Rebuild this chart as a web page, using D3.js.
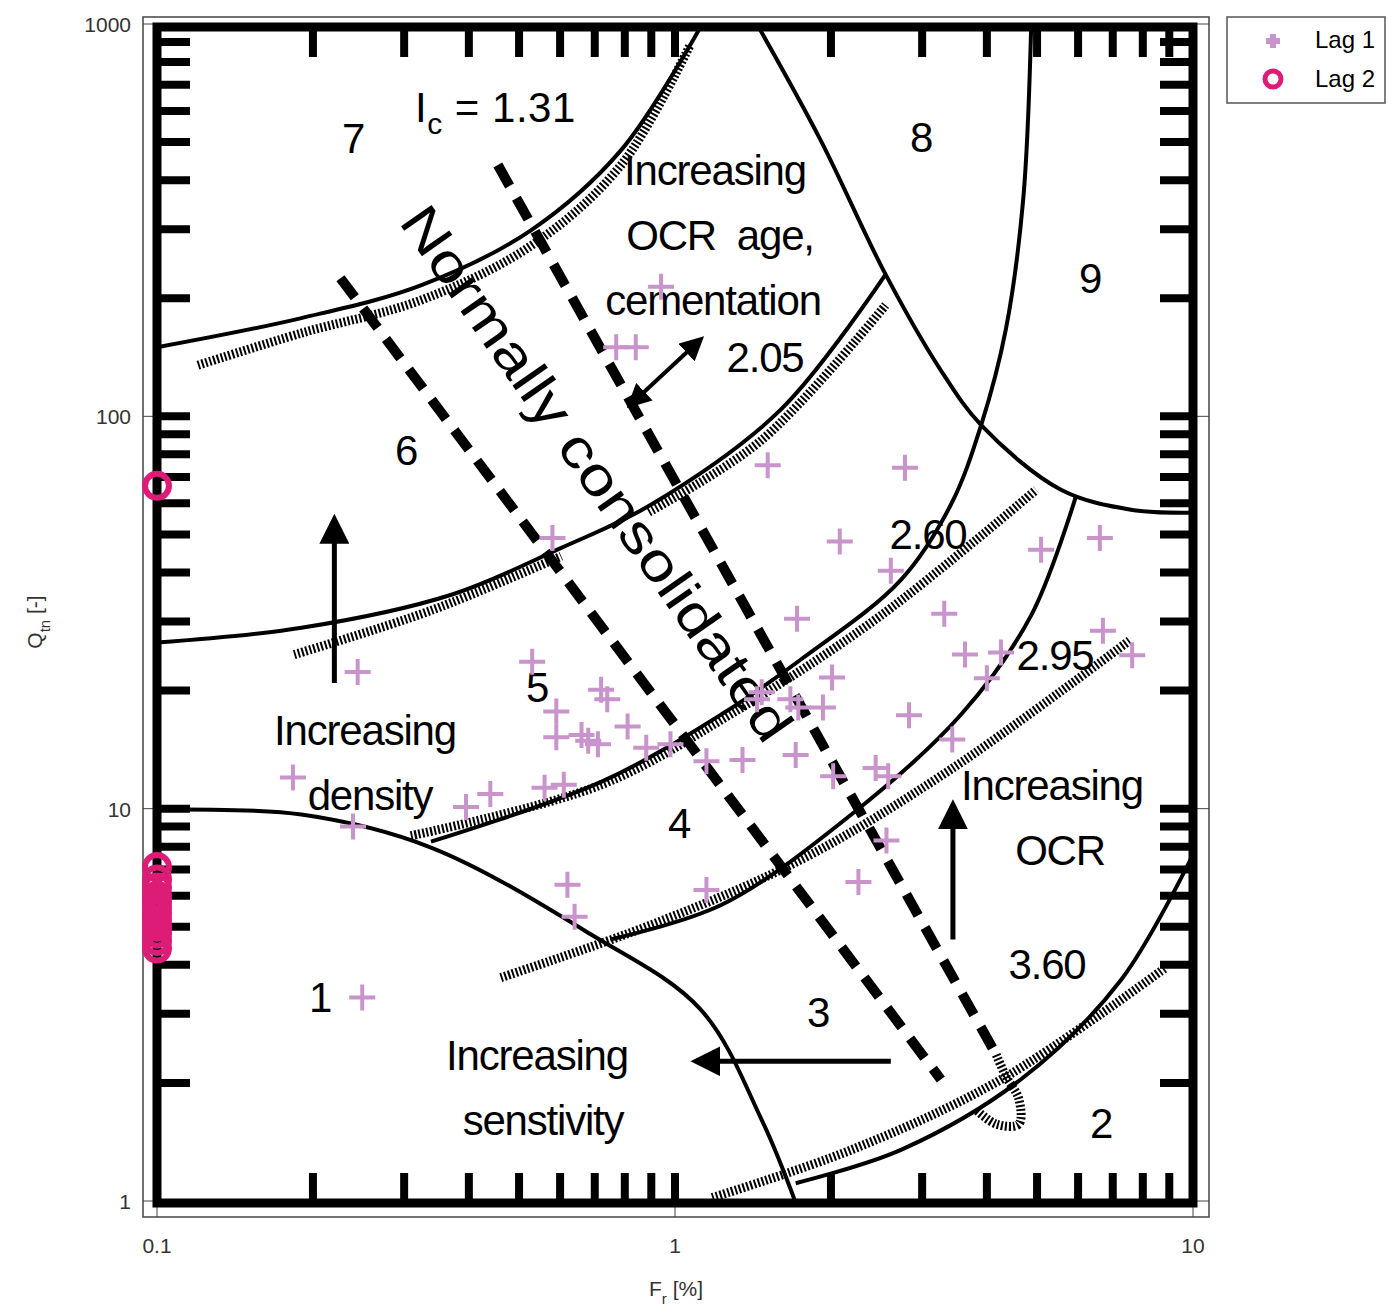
<!DOCTYPE html>
<html><head><meta charset="utf-8">
<script src="https://cdn.jsdelivr.net/npm/d3@7"></script>
<style>
body{margin:0;background:#fff;}
text{font-family:"Liberation Sans",Arial,sans-serif;}
</style></head>
<body><svg id="chart" width="1394" height="1308"></svg>
<script>
// scatter data [Fr %, Qtn]
var lag1 = [[0.94,214],[0.77,150],[0.84,150],[1.51,75],[2.78,74],[0.58,49],[2.08,48],[5.09,45.7],[6.61,49],
  [2.61,40.4],[1.72,30.5],[3.31,31.4],[6.70,28.4],[3.63,24.7],[4.26,25],[7.63,24.6],[0.244,22.3],[0.53,23.7],
  [0.72,20.1],[0.74,19],[1.47,19.8],[1.44,19],[1.67,19],[2.01,21.6],[4.0,21.5],[0.59,17.7],[0.59,15.2],
  [0.66,15.4],[0.68,14.9],[0.71,14.6],[0.81,16.2],[0.88,14.3],[0.98,14.6],[1.15,13.2],[1.35,13.3],[1.71,13.7],
  [1.93,18.1],[1.73,18.1],[2.83,17.3],[3.43,15],[2.44,12.7],[2.58,12.1],[2.02,12.1],[0.183,12],[0.395,10.1],
  [0.44,10.9],[0.56,11.3],[0.61,11.5],[0.239,9.0],[2.56,8.3],[2.26,6.5],[0.62,6.4],[0.64,5.3],[1.15,6.2],[0.249,3.3]];
var lag2 = [[0.1,66.5],[0.1,7.1],[0.1,6.6],[0.1,6.3],[0.1,6.0],[0.1,5.8],[0.1,5.6],[0.1,5.4],[0.1,5.2],
  [0.1,5.0],[0.1,4.8],[0.1,4.6],[0.1,4.4]];

// background chart boundaries [Fr, Q]
var zone1 = [[0.1,9.94],[0.19,9.66],[0.338,7.96],[0.69,4.77],[1.12,3.08],[1.47,1.61],[1.71,0.99]];
var line76 = [[0.1,150],[0.19,178],[0.324,216],[0.527,298],[0.787,477],[1.12,982]];
var line65 = [[0.1,26.5],[0.19,28.9],[0.37,35.1],[0.603,46.2],[0.9,59.6],[1.6,104],[2.55,230]];
var lineB = [[0.338,8.24],[0.72,11.7],[1.23,17.4],[1.75,24],[2.73,38.3],[3.41,59.6],[3.9,95],[4.35,166],[4.7,356],[4.87,982]];
var lineA = [[1.45,982],[1.91,506],[2.55,230],[3.26,131],[3.9,95],[5.56,65],[7.59,57.8],[10,56.8]];
var lineC = [[0.75,4.64],[1.23,5.69],[2.19,9.66],[3.57,17.4],[4.87,31.1],[5.94,62.4]];
var lineD = [[1.71,1.11],[2.73,1.35],[4.65,2.04],[7.26,3.66],[10,7.64]];
var hatch131 = [[0.12,135],[0.19,163],[0.324,198],[0.527,272],[0.787,437],[1.07,885]];
var hatch205 = [[0.89,57],[1.47,87],[2.55,192]];
var hatch205b = [[0.184,24.7],[0.338,32],[0.603,44]];
var hatch260 = [[0.309,8.53],[0.72,11.5],[1.28,17.4],[2.5,31.1],[4.98,65]];
var hatch295 = [[0.461,3.71],[0.9,5.06],[1.75,7.41],[3.41,12.6],[7.59,27]];
var hatch360 = [[1.18,1.02],[2.19,1.35],[4.26,2.04],[8.87,3.94]];
var curl = [[4.17,2.36],[4.36,2.07],[4.61,1.82],[4.61,1.57],[4.17,1.57],[3.81,1.71]];
var nc1 = [[0.226,225],[3.26,2.04]];
var nc2 = [[0.455,437],[4.17,2.36]];
var arrowsOne = [[[0.22,20.9],[0.22,54.5]],[[2.61,2.27],[1.10,2.27]],[[3.44,4.64],[3.44,10.2]]];
var arrowTwo = [[0.82,107],[1.12,157]];

var xTicks = [0.1,1,10], yTicks = [1,10,100,1000];

var svg = d3.select("#chart");
var x = d3.scaleLog().domain([0.1,10]).range([157,1193]);
var y = d3.scaleLog().domain([1,1000]).range([1201,24]);
var line = d3.line().x(function(d){return x(d[0]);}).y(function(d){return y(d[1]);}).curve(d3.curveCatmullRom);

var defs = svg.append("defs");
defs.append("marker").attr("id","ah").attr("viewBox","0 0 10 10").attr("refX",8).attr("refY",5)
  .attr("markerWidth",6).attr("markerHeight",6).attr("orient","auto-start-reverse").attr("markerUnits","strokeWidth")
  .append("path").attr("d","M0,0L10,5L0,10z").attr("fill","#000");
defs.append("clipPath").attr("id","clip").append("rect").attr("x",157).attr("y",27).attr("width",1036).attr("height",1176);

// thin outer frame
svg.append("rect").attr("x",143).attr("y",17).attr("width",1066).attr("height",1200)
  .attr("fill","none").attr("stroke","#444").attr("stroke-width",1.5);
svg.selectAll(".yt").data(yTicks).enter().append("line")
  .attr("x1",143).attr("x2",157).attr("y1",function(d){return y(d);}).attr("y2",function(d){return y(d);}).attr("stroke","#444");
svg.selectAll(".yt2").data(yTicks).enter().append("line")
  .attr("x1",1193).attr("x2",1209).attr("y1",function(d){return y(d);}).attr("y2",function(d){return y(d);}).attr("stroke","#444");
svg.selectAll(".xt").data(xTicks).enter().append("line")
  .attr("y1",1203).attr("y2",1217).attr("x1",function(d){return x(d);}).attr("x2",function(d){return x(d);}).attr("stroke","#444");
svg.selectAll(".xl").data(xTicks).enter().append("text")
  .attr("x",function(d){return x(d);}).attr("y",1253).attr("text-anchor","middle").attr("font-size",21).attr("fill","#333")
  .attr("font-family","Open Sans").text(function(d){return d;});
svg.selectAll(".yl").data(yTicks).enter().append("text")
  .attr("x",131).attr("y",function(d){return y(d)+8;}).attr("text-anchor","end").attr("font-size",21).attr("fill","#333")
  .attr("font-family","Open Sans").text(function(d){return d;});
var xt = svg.append("text").attr("x",676).attr("y",1296).attr("text-anchor","middle").attr("font-size",21).attr("fill","#333").attr("font-family","Open Sans");
xt.append("tspan").text("F");
xt.append("tspan").attr("dy",8).attr("font-size",15).text("r");
xt.append("tspan").attr("dy",-8).text(" [%]");
var yt = svg.append("text").attr("transform","translate(42,622) rotate(-90)").attr("text-anchor","middle").attr("font-size",21).attr("fill","#333").attr("font-family","Open Sans");
yt.append("tspan").text("Q");
yt.append("tspan").attr("dy",8).attr("font-size",15).text("tn");
yt.append("tspan").attr("dy",-8).text(" [-]");

// thick chart frame with inner ticks
var g = svg.append("g");
g.append("rect").attr("x",157).attr("y",27).attr("width",1036).attr("height",1176)
  .attr("fill","none").attr("stroke","#000").attr("stroke-width",9);
var minorX = [], minorY = [];
[0.1,1].forEach(function(b){ d3.range(2,10).forEach(function(m){ minorX.push(b*m); }); });
[1,10,100].forEach(function(b){ d3.range(2,10).forEach(function(m){ minorY.push(b*m); }); });
minorY = minorY.concat([10,100]);
minorX = minorX.concat([1]);
g.selectAll(".mt").data(minorX).enter().append("line").attr("x1",function(d){return x(d);}).attr("x2",function(d){return x(d);})
  .attr("y1",27).attr("y2",57).attr("stroke","#000").attr("stroke-width",8);
g.selectAll(".mb").data(minorX).enter().append("line").attr("x1",function(d){return x(d);}).attr("x2",function(d){return x(d);})
  .attr("y1",1203).attr("y2",1173).attr("stroke","#000").attr("stroke-width",8);
g.selectAll(".ml").data(minorY).enter().append("line").attr("y1",function(d){return y(d);}).attr("y2",function(d){return y(d);})
  .attr("x1",157).attr("x2",190).attr("stroke","#000").attr("stroke-width",8);
g.selectAll(".mr").data(minorY).enter().append("line").attr("y1",function(d){return y(d);}).attr("y2",function(d){return y(d);})
  .attr("x1",1193).attr("x2",1160).attr("stroke","#000").attr("stroke-width",8);

// boundary lines
var cg = svg.append("g").attr("clip-path","url(#clip)");
[zone1,line76,line65,lineB,lineA,lineC,lineD].forEach(function(c){
  cg.append("path").attr("d",line(c)).attr("fill","none").attr("stroke","#000").attr("stroke-width",4);
});
[hatch131,hatch205,hatch205b,hatch260,hatch295,hatch360,curl].forEach(function(c){
  cg.append("path").attr("d",line(c)).attr("fill","none").attr("stroke","#000").attr("stroke-width",9).attr("stroke-dasharray","2,2");
});
[nc1,nc2].forEach(function(c){
  cg.append("path").attr("d",line(c)).attr("fill","none").attr("stroke","#000").attr("stroke-width",10).attr("stroke-dasharray","24,14");
});
arrowsOne.forEach(function(a){
  cg.append("path").attr("d",d3.line().x(function(d){return x(d[0]);}).y(function(d){return y(d[1]);})(a))
    .attr("stroke","#000").attr("stroke-width",5).attr("marker-end","url(#ah)");
});
cg.append("path").attr("d",d3.line().x(function(d){return x(d[0]);}).y(function(d){return y(d[1]);})(arrowTwo))
  .attr("stroke","#000").attr("stroke-width",4).attr("marker-end","url(#ah)").attr("marker-start","url(#ah)");

// annotation text
var ann = [["7",353,153],["8",921,152],["9",1090,293],["6",406,465],["5",537,702],["4",679,838],["3",818,1027],
  ["2",1101,1138],["1",320,1012],["2.05",765,372],["2.60",928,549],["2.95",1055,670],["3.60",1047,979],
  ["Increasing",715,185],["OCR  age,",720,250],["cementation",713,315],["Increasing",365,745],["density",370,810],
  ["Increasing",1052,800],["OCR",1060,865],["Increasing",537,1070],["senstivity",543,1135]];
svg.selectAll(".ann").data(ann).enter().append("text").attr("x",function(d){return d[1];}).attr("y",function(d){return d[2];})
  .attr("text-anchor","middle").attr("font-size",42).attr("letter-spacing",-1.2).attr("fill","#000")
  .style("white-space","pre").text(function(d){return d[0];});
var ic = svg.append("text").attr("x",415).attr("y",122).attr("font-size",42).attr("letter-spacing",0.5);
ic.append("tspan").text("I");
ic.append("tspan").attr("dy",12).attr("font-size",30).text("c");
ic.append("tspan").attr("dy",-12).text(" = 1.31");
svg.append("text").attr("transform","translate(398,222) rotate(55)").attr("font-size",54)
  .attr("textLength",640).attr("lengthAdjust","spacingAndGlyphs")
  .text("Normally consolidated");

// scatter
var pg = svg.append("g");
lag1.forEach(function(d){
  var px = x(d[0]), py = y(d[1]);
  pg.append("path").attr("d","M"+(px-13)+","+py+"H"+(px+13)+"M"+px+","+(py-13)+"V"+(py+13))
    .attr("stroke","#c993cc").attr("stroke-width",4);
});
pg.selectAll(".l2").data(lag2).enter().append("circle").attr("cx",function(d){return x(d[0]);}).attr("cy",function(d){return y(d[1]);})
  .attr("r",12).attr("fill","none").attr("stroke","#dd1c77").attr("stroke-width",6);

// legend
var lg = svg.append("g");
lg.append("rect").attr("x",1227).attr("y",17).attr("width",158).attr("height",86).attr("fill","#fff").attr("stroke","#555").attr("stroke-width",1.5);
lg.append("path").attr("d","M1266,41H1280M1273,34V48").attr("stroke","#c993cc").attr("stroke-width",6);
lg.append("circle").attr("cx",1273).attr("cy",79).attr("r",8).attr("fill","none").attr("stroke","#dd1c77").attr("stroke-width",5);
lg.append("text").attr("x",1375).attr("y",48).attr("text-anchor","end").attr("font-size",24).attr("font-family","Open Sans").text("Lag 1");
lg.append("text").attr("x",1375).attr("y",87).attr("text-anchor","end").attr("font-size",24).attr("font-family","Open Sans").text("Lag 2");
</script></body></html>
